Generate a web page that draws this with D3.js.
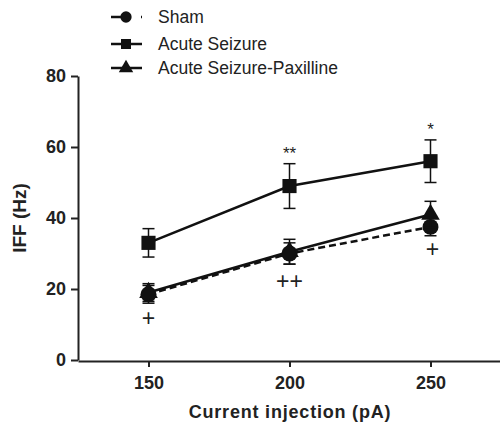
<!DOCTYPE html>
<html>
<head>
<meta charset="utf-8">
<style>
  body { margin: 0; background: #fff; }
  svg { font-family: "Liberation Sans", Arial, sans-serif; }
</style>
</head>
<body>
<script src="https://d3js.org/d3.v7.min.js"></script>
<script>
// chart values
const currents = [150, 200, 250];
const shamMean = [18.5, 30, 37.5];
const shamErr = [2.5, 3, 2.5];
const seizureMean = [33, 49, 56];
const seizureErr = [4, 6.3, 6];
const paxMean = [19, 30.5, 41];
const paxErr = [2.5, 3.5, 3.7];
const yTicks = [0, 20, 40, 60, 80];
const starMarks = ["", "**", "*"];
const plusMarks = ["+", "++", "+"];
const plusValues = [11.5, 22, 31];

const w = 500, h = 426;
const svg = d3.select("body").append("svg").attr("width", w).attr("height", h);

const x = d3.scaleLinear().domain([125, 275]).range([78, 501]);
const y = d3.scaleLinear().domain([0, 80]).range([360, 76]);

// axes
svg.append("g")
  .attr("transform", "translate(0,361)")
  .call(d3.axisBottom(x).tickValues(currents).tickSize(6).tickSizeOuter(0))
  .call(g => g.select(".domain").attr("stroke", "#222").attr("stroke-width", 2))
  .call(g => g.selectAll(".tick line").attr("stroke", "#222").attr("stroke-width", 2))
  .call(g => g.selectAll("text").attr("font-size", 18).attr("font-weight", "bold")
    .attr("fill", "#222").attr("dy", "1.05em"));

svg.append("g")
  .attr("transform", "translate(78,0)")
  .call(d3.axisLeft(y).tickValues(yTicks).tickSize(7).tickSizeOuter(0))
  .call(g => g.select(".domain").attr("stroke", "#222").attr("stroke-width", 2))
  .call(g => g.selectAll(".tick line").attr("stroke", "#222").attr("stroke-width", 2))
  .call(g => g.selectAll("text").attr("font-size", 18).attr("font-weight", "bold")
    .attr("fill", "#222").attr("x", -12));

svg.append("text")
  .attr("transform", "translate(26,218) rotate(-90)")
  .attr("text-anchor", "middle")
  .attr("font-size", 19).attr("font-weight", "bold").attr("fill", "#222")
  .text("IFF (Hz)");

svg.append("text")
  .attr("x", 290).attr("y", 418)
  .attr("text-anchor", "middle")
  .attr("font-size", 18).attr("font-weight", "bold").attr("fill", "#222")
  .attr("letter-spacing", 0.8)
  .text("Current injection (pA)");

const series = [
  { name: "Sham", mean: shamMean, err: shamErr, shape: d3.symbolCircle, dash: "7,4" },
  { name: "Acute Seizure", mean: seizureMean, err: seizureErr, shape: d3.symbolSquare, dash: null },
  { name: "Acute Seizure-Paxilline", mean: paxMean, err: paxErr, shape: d3.symbolTriangle, dash: null }
];

const line = d3.line().x((d, i) => x(currents[i])).y(d => y(d));

series.forEach(s => {
  // error bars
  currents.forEach((c, i) => {
    const cx = x(c);
    const top = y(s.mean[i] + s.err[i]);
    const bot = y(s.mean[i] - s.err[i]);
    svg.append("line").attr("x1", cx).attr("x2", cx).attr("y1", top).attr("y2", bot)
      .attr("stroke", "#111").attr("stroke-width", 1.5);
    [top, bot].forEach(yy => svg.append("line")
      .attr("x1", cx - 6).attr("x2", cx + 6).attr("y1", yy).attr("y2", yy)
      .attr("stroke", "#111").attr("stroke-width", 1.5));
  });
  svg.append("path").datum(s.mean).attr("d", line)
    .attr("fill", "none").attr("stroke", "#111").attr("stroke-width", 2.5)
    .attr("stroke-dasharray", s.dash);
  svg.selectAll(null).data(s.mean).enter().append("path")
    .attr("transform", (d, i) => `translate(${x(currents[i])},${y(d)})`)
    .attr("d", d3.symbol().type(s.shape).size(s.shape === d3.symbolTriangle ? 150 : 200))
    .attr("fill", "#111");
});

// significance marks
svg.selectAll(".star").data(starMarks).enter().append("text")
  .attr("x", (d, i) => x(currents[i]))
  .attr("y", (d, i) => y(seizureMean[i] + seizureErr[i]) - 5)
  .attr("text-anchor", "middle").attr("font-size", 17).attr("fill", "#222")
  .text(d => d);

svg.selectAll(".plus").data(plusMarks).enter().append("text")
  .attr("x", (d, i) => x(currents[i]) + (i === 2 ? 2 : 0))
  .attr("y", (d, i) => y(plusValues[i]) + 7)
  .attr("text-anchor", "middle").attr("font-size", 23).attr("fill", "#222")
  .text(d => d);

// legend
const legendY = [17, 44, 68];
series.forEach((s, i) => {
  const ly = legendY[i];
  svg.append("line").attr("x1", 111).attr("x2", 142).attr("y1", ly).attr("y2", ly)
    .attr("stroke", "#111").attr("stroke-width", 2.5)
    .attr("stroke-dasharray", s.dash ? "12,6,2,10" : null);
  svg.append("path").attr("transform", `translate(126,${ly})`)
    .attr("d", d3.symbol().type(s.shape).size(s.shape === d3.symbolTriangle ? 90 : 100))
    .attr("fill", "#111");
  svg.append("text").attr("x", 158).attr("y", ly).attr("dy", "0.35em")
    .attr("font-size", 17.5).attr("fill", "#222").text(s.name);
});
</script>
</body>
</html>
